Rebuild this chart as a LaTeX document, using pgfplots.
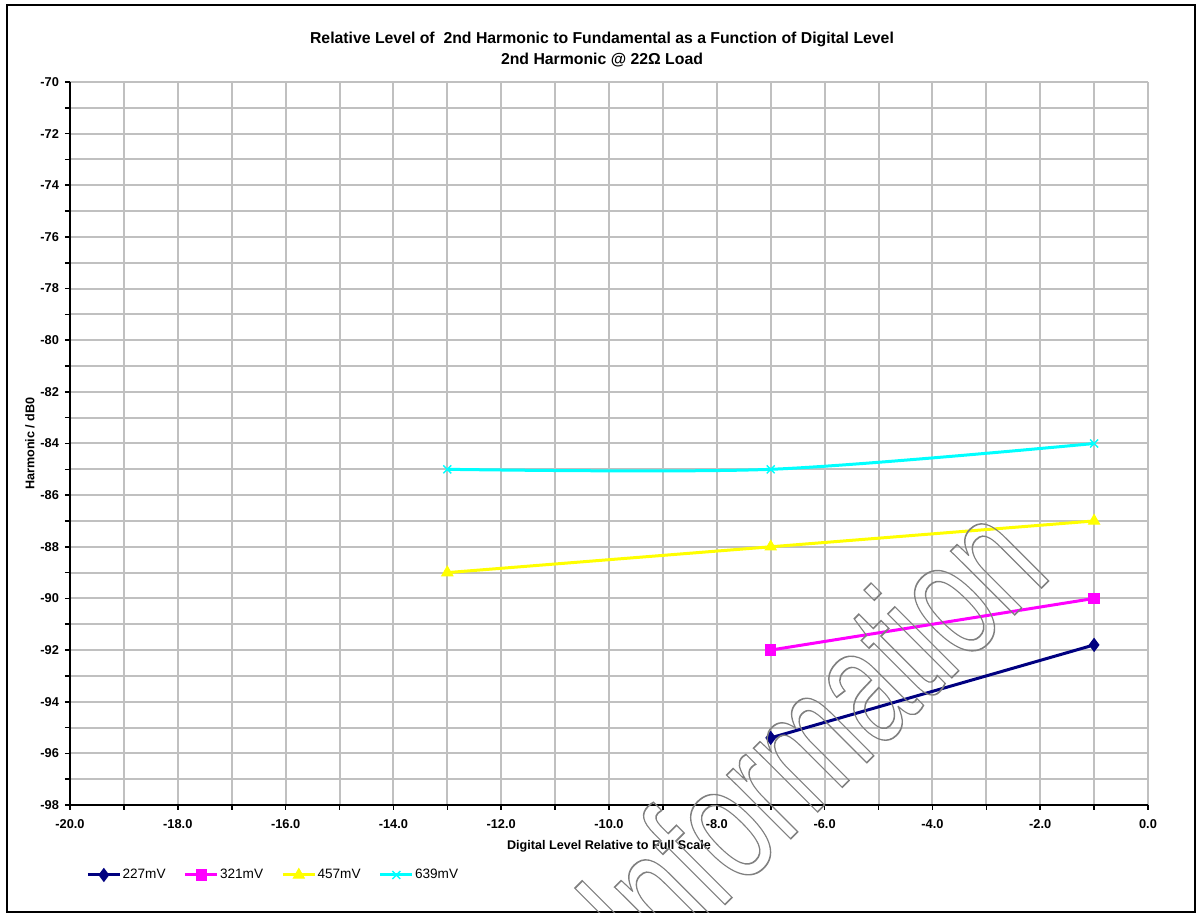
\documentclass[border=0pt]{standalone}
\usepackage{fontspec}
\setmainfont{Liberation Sans}
\usepackage{pgfplots}
\pgfplotsset{compat=1.18}
\definecolor{xlnavy}{RGB}{0,0,128}
\definecolor{xlmag}{RGB}{255,0,255}
\definecolor{xlyel}{RGB}{255,255,0}
\definecolor{xlcyan}{RGB}{0,255,255}
\definecolor{gridgray}{RGB}{192,192,192}
\definecolor{wmgray}{RGB}{128,128,128}
\begin{document}
\begin{tikzpicture}
\useasboundingbox (0,0) rectangle (598.5pt,457pt);
\draw[line width=1pt] (3.5pt,1pt) rectangle (597.5pt,454.5pt);
\begin{axis}[
  at={(35pt,54.5pt)}, anchor=south west,
  width=539pt, height=361.5pt, scale only axis,
  xmin=-20, xmax=0, ymin=-98, ymax=-70,
  axis x line*=bottom, axis y line*=left,
  axis line style={-, line width=1pt, black},
  xtick={-20,-18,...,0},
  xticklabels={-20.0,-18.0,-16.0,-14.0,-12.0,-10.0,-8.0,-6.0,-4.0,-2.0,0.0},
  minor xtick={-19,-17,...,-1},
  ytick={-98,-96,...,-70},
  minor ytick={-97,-95,...,-71},
  grid=both,
  major grid style={gridgray, line width=1pt},
  minor grid style={gridgray, line width=1pt},
  tick align=outside,
  major tick length=2.5pt, minor tick length=2.5pt,
  tick style={black, line width=0.8pt},
  /pgf/number format/assume math mode=true,
  ticklabel style={font=\fontsize{6.4}{7.5}\selectfont\bfseries},
  xticklabel style={yshift=-1pt},
  yticklabel style={xshift=0.5pt},
  title={Relative Level of \ 2nd Harmonic to Fundamental as a Function of Digital Level\\2nd Harmonic @ 22Ω Load},
  title style={at={(axis description cs:0.4935,1.0283)}, anchor=center, align=center, font=\fontsize{7.9}{10.5}\selectfont\bfseries},
  xlabel={Digital Level Relative to Full Scale},
  xlabel style={at={(axis description cs:0.5,-0.0577)}, anchor=center, font=\fontsize{6.3}{7.5}\selectfont\bfseries},
  ylabel={Harmonic / dB0},
  ylabel style={at={(axis description cs:-0.0371,0.5)}, anchor=center, rotate=0, font=\fontsize{6.3}{7.5}\selectfont\bfseries},
  legend columns=4,
  legend style={at={(axis description cs:0.0148,-0.0968)}, anchor=west, draw=none, fill=none,
    font=\fontsize{6.8}{8}\selectfont, inner sep=0pt, nodes={inner sep=0.6pt},
    /tikz/every even column/.append style={column sep=8.5pt}},
  legend cell align=left,
  legend image code/.code={\draw[mark repeat=2,mark phase=2] plot coordinates {(0pt,0pt) (8pt,0pt) (16pt,0pt)};},
  every axis plot/.append style={line width=1.5pt, smooth, tension=0.5},
  clip=false,
]
\addplot[xlnavy, mark=diamond*, mark size=3.2pt, mark options={solid, line width=0.5pt}] coordinates {(-7,-95.4) (-1,-91.8)};
\addlegendentry{227mV}
\addplot[xlmag, mark=square*, mark size=2.6pt, mark options={solid, line width=0.5pt}] coordinates {(-7,-92) (-1,-90)};
\addlegendentry{321mV}
\addplot[xlyel, mark=triangle*, mark size=3.2pt, mark options={solid, line width=0.5pt}] coordinates {(-13,-89) (-7,-88) (-1,-87)};
\addlegendentry{457mV}
\addplot[xlcyan, mark=x, mark size=2.8pt, mark options={solid, line width=0.7pt}] coordinates {(-13,-85) (-7,-85) (-1,-84)};
\addlegendentry{639mV}
\end{axis}
\begin{scope}
\clip (3.5pt,1pt) rectangle (597.5pt,454.5pt);
\begin{scope}[shift={(404.5pt,90pt)}, rotate=45, yscale=1.5]
\node[transform shape, text=wmgray, font=\fontsize{57}{60}\selectfont, inner sep=0pt] at (0,0)
  {\special{pdf:literal direct 1 Tr 0.55 w}Information\special{pdf:literal direct 0 Tr}};
\end{scope}
\end{scope}
\end{tikzpicture}
\end{document}
